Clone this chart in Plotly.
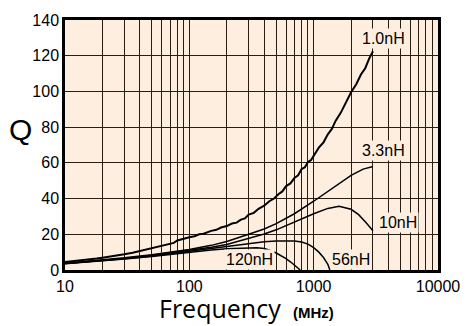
import plotly.graph_objects as go
import math

# ---- data ----
f_1n0 = [10, 12, 15, 18, 20, 25, 30, 35, 40, 45, 50, 55, 60, 65, 70, 75, 80, 90, 100, 110,
         120, 130, 140, 150, 165, 180, 200, 220, 240, 260, 280, 300, 330, 360, 400, 440,
         480, 520, 560, 600, 650, 700, 750, 800, 850, 900, 950, 1000, 1100, 1200, 1300,
         1400, 1500, 1650, 1800, 2000, 2200, 2400, 2600, 2800, 3000]
q_1n0 = [4.5, 5.0, 5.7, 6.4, 6.9, 7.8, 8.8, 9.7, 10.6, 11.4, 12.2, 12.8, 13.7, 14.2, 14.8,
         15.2, 16.5, 17.6, 18.3, 18.9, 20.0, 20.3, 21.2, 21.9, 22.5, 23.8, 24.6, 26.0, 26.5,
         28.2, 28.9, 31.0, 32.0, 34.3, 36.0, 38.5, 40.0, 42.4, 44.0, 47.0, 48.5, 51.5, 53.0,
         56.5, 57.5, 60.5, 61.5, 64.0, 68.5, 71.5, 76.0, 79.0, 83.5, 88.0, 93.5, 99.5, 104.0,
         109.5, 113.0, 118.5, 122.5]

f_3n3 = [10, 20, 30, 50, 70, 100, 150, 200, 300, 400, 500, 700, 1000, 1300, 1600, 2000, 2500, 3000]
q_3n3 = [3.8, 5.5, 6.8, 8.5, 9.9, 11.5, 13.8, 16.0, 20.0, 23.0, 26.0, 31.5, 38.5, 44.0, 48.5, 53.0, 56.5, 58.0]

f_10n = [10, 20, 30, 50, 70, 100, 150, 200, 300, 400, 500, 700, 1000, 1300, 1600, 2000, 2300, 2600, 3000]
q_10n = [3.7, 5.3, 6.5, 8.2, 9.5, 11.0, 12.8, 14.3, 17.5, 20.2, 22.5, 27.0, 31.5, 34.5, 35.7, 34.0, 31.0, 27.0, 22.0]

f_56n = [10, 20, 30, 50, 70, 100, 150, 200, 300, 400, 500, 600, 700, 800, 900, 1000, 1100, 1200, 1300, 1350]
q_56n = [3.6, 5.2, 6.3, 7.9, 9.2, 10.6, 12.0, 13.2, 14.8, 15.8, 16.3, 16.5, 16.3, 15.7, 14.5, 12.5, 10.0, 7.0, 3.2, 0.0]

f_120n = [10, 20, 30, 50, 70, 100, 150, 200, 300, 350, 400, 450, 500, 550, 600, 650, 700, 750, 780]
q_120n = [3.5, 5.0, 6.1, 7.6, 8.8, 10.1, 11.2, 11.9, 12.5, 12.4, 12.0, 11.0, 9.5, 8.0, 6.4, 4.6, 2.9, 1.2, 0.0]

series = [("1.0nH", f_1n0, q_1n0, 2.0),
          ("3.3nH", f_3n3, q_3n3, 1.5),
          ("10nH", f_10n, q_10n, 1.5),
          ("56nH", f_56n, q_56n, 1.5),
          ("120nH", f_120n, q_120n, 1.5)]

labels = ["1.0nH", "3.3nH", "10nH", "56nH", "120nH"]
label_f = [3614, 3614, 4732, 2000, 302]
label_q = [129.6, 66.7, 26.4, 6.0, 6.0]

x_grid = [m * 10 ** e for e in range(1, 4) for m in range(1, 10)] + [10000]
x_ticktext = [str(v) if v in (10, 100, 1000, 10000) else "" for v in x_grid]
y_ticks = [0, 20, 40, 60, 80, 100, 120, 140]

fig = go.Figure()
for name, fx, qy, w in series:
    fig.add_trace(go.Scatter(x=fx, y=qy, mode="lines", name=name,
                             line=dict(color="black", width=w), showlegend=False))

for t, fx, qy in zip(labels, label_f, label_q):
    fig.add_annotation(x=math.log10(fx), y=qy, xref="x", yref="y", text=t, showarrow=False,
                       xanchor="center", yanchor="middle",
                       font=dict(family="Liberation Sans, Arial", size=16, color="black"),
                       bgcolor="#fdeee0")

# axis titles placed in pixel-equivalent paper coordinates (plot area 65..438 x 15..270)
fig.add_annotation(x=(20 - 65) / 373, y=(270 - 127) / 255, xref="paper", yref="paper",
                   text="Q", showarrow=False, xanchor="center", yanchor="middle",
                   font=dict(family="Liberation Sans, Arial", size=30, color="black"))
fig.add_annotation(x=(220 - 65) / 373, y=(270 - 309) / 255, xref="paper", yref="paper",
                   text="Frequency", showarrow=False, xanchor="center", yanchor="middle",
                   borderpad=0,
                   font=dict(family="Open Sans", size=25, color="black"))
fig.add_annotation(x=(313 - 65) / 373, y=(270 - 313) / 255, xref="paper", yref="paper",
                   text="<b>(MHz)</b>", showarrow=False, xanchor="center", yanchor="middle",
                   font=dict(family="Liberation Sans, Arial", size=15, color="black"))

fig.update_layout(
    width=474, height=326, autosize=False,
    margin=dict(l=65, r=36, t=15, b=56),
    paper_bgcolor="white", plot_bgcolor="#fdeee0",
    xaxis=dict(type="log", range=[1, 4], tickmode="array", tickvals=x_grid, ticktext=x_ticktext,
               showgrid=True, gridcolor="#2a1e14", gridwidth=1, ticks="",
               showline=True, linecolor="black", linewidth=2.5, mirror=True, zeroline=False,
               tickfont=dict(family="Liberation Sans, Arial", size=16, color="black")),
    yaxis=dict(range=[0, 140], tickmode="array", tickvals=y_ticks,
               showgrid=True, gridcolor="#2a1e14", gridwidth=1, ticks="",
               showline=True, linecolor="black", linewidth=2.5, mirror=True, zeroline=False,
               tickfont=dict(family="Liberation Sans, Arial", size=16, color="black")),
)

fig.write_html("out.html")
